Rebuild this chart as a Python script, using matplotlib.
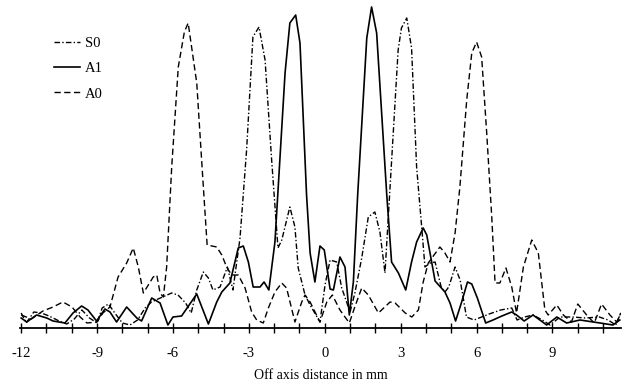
import matplotlib
matplotlib.use("Agg")
import matplotlib.pyplot as plt
from matplotlib.ticker import FixedLocator

plt.rcParams['font.family'] = ['Liberation Serif', 'DejaVu Serif']
plt.rcParams['axes.unicode_minus'] = False

# ---- data (off-axis distance in mm, relative amplitude in arbitrary units) ----
a1_x = [-12.0, -11.78, -11.39, -10.99, -10.74, -10.27, -9.95, -9.61, -9.36, -9.02,
        -8.69, -8.49, -8.23, -7.83, -7.43, -7.24, -6.84, -6.51, -6.20, -6.0,
        -5.66, -5.06, -4.6, -4.27, -4.07, -3.75, -3.42, -3.22, -3.02, -2.83,
        -2.56, -2.4, -2.21, -1.97, -1.57, -1.38, -1.15, -0.98, -0.72, -0.58,
        -0.39, -0.19, -0.02, 0.21, 0.34, 0.6, 0.8, 0.97, 1.13, 1.3,
        1.66, 1.85, 2.05, 2.45, 2.64, 2.91, 3.2, 3.43, 3.63, 3.89,
        4.03, 4.16, 4.36, 4.75, 4.95, 5.17, 5.41, 5.64, 5.81, 6.03,
        6.36, 6.65, 7.0, 7.39, 7.58, 7.88, 8.23, 8.77, 9.17, 9.56,
        10.09, 10.88, 11.39, 11.66]
a1_y = [10, 6, 13, 10, 7, 5, 15, 22, 18, 7,
        19, 16, 6, 21, 10, 7, 30, 25, 3, 11,
        12, 34, 4, 26, 36, 45, 80, 82, 66, 41,
        41, 46, 38, 86, 255, 305, 313, 285, 133, 75,
        46, 82, 78, 39, 38, 71, 61, 13, 46, 133,
        290, 321, 295, 133, 66, 55, 38, 66, 86, 100,
        93, 75, 47, 36, 25, 7, 26, 46, 44, 30,
        5, 8, 12, 16, 13, 7, 13, 3, 11, 5,
        8, 5, 3, 8]

s0_x = [-12.0, -11.8, -11.5, -11.2, -10.9, -10.5, -10.2, -9.9, -9.6, -9.3,
        -9.0, -8.8, -8.55, -8.3, -8.0, -7.7, -7.4, -7.1, -6.85, -6.5,
        -6.05, -5.8, -5.5, -5.28, -5.06, -4.8, -4.6, -4.42, -4.14, -3.85,
        -3.63, -3.35, -3.09, -2.84, -2.6, -2.36, -2.1, -1.85, -1.7, -1.38,
        -1.18, -1.05, -0.78, -0.58, -0.19, 0.01, 0.21, 0.47, 0.67, 1.0,
        1.19, 1.46, 1.72, 1.98, 2.18, 2.38, 2.9, 3.03, 3.24, 3.43,
        3.63, 3.83, 3.96, 4.16, 4.36, 4.6, 4.75, 4.9, 5.15, 5.35,
        5.6, 5.9, 6.5, 6.95, 7.39, 7.6, 7.9, 8.23, 8.6, 8.9,
        9.3, 9.8, 10.3, 10.85, 11.2, 11.5, 11.7]
s0_y = [15, 5, 16, 15, 12, 7, 4, 9, 18, 10,
        5, 20, 24, 15, 5, 3, 8, 20, 26, 30,
        35, 33, 25, 15, 38, 56, 50, 38, 41, 61,
        38, 90, 178, 291, 301, 268, 168, 80, 88, 121,
        101, 60, 33, 23, 6, 43, 68, 66, 40, 16,
        35, 70, 111, 116, 96, 55, 278, 300, 310, 280,
        161, 101, 61, 65, 66, 41, 36, 41, 61, 48,
        11, 8, 14, 18, 20, 8, 11, 13, 8, 3,
        11, 11, 10, 11, 8, 3, 15]

a0_x = [-12.0, -11.6, -11.14, -10.74, -10.35, -9.99, -9.67, -9.4, -9.0, -8.77,
        -8.49, -8.17, -7.83, -7.57, -7.37, -7.17, -6.78, -6.64, -6.51, -6.38,
        -6.25, -6.05, -5.79, -5.55, -5.4, -5.06, -4.85, -4.65, -4.27, -4.07,
        -3.88, -3.68, -3.42, -3.15, -2.89, -2.69, -2.43, -2.23, -1.97, -1.7,
        -1.51, -1.18, -0.91, -0.78, -0.58, -0.19, 0.08, 0.3, 0.6, 0.97,
        1.2, 1.46, 1.72, 2.12, 2.58, 2.78, 3.18, 3.44, 3.7, 3.89,
        4.09, 4.55, 4.75, 4.95, 5.15, 5.34, 5.61, 5.81, 6.0, 6.2,
        6.4, 6.6, 6.73, 6.92, 7.16, 7.39, 7.58, 7.85, 8.18, 8.44,
        8.7, 8.83, 9.17, 9.43, 9.75, 10.0, 10.35, 10.65, 10.94, 11.27,
        11.54, 11.7]
a0_y = [13, 9, 17, 21, 26, 21, 11, 5, 6, 15,
        21, 51, 65, 80, 61, 35, 51, 53, 35, 31,
        61, 161, 261, 296, 305, 245, 161, 83, 81, 73,
        61, 53, 53, 40, 16, 8, 5, 20, 36, 45,
        40, 6, 26, 33, 26, 6, 26, 33, 18, 5,
        22, 40, 33, 15, 26, 25, 15, 11, 18, 46,
        65, 81, 75, 66, 95, 141, 228, 275, 286, 271,
        195, 111, 45, 45, 60, 41, 15, 61, 88, 75,
        18, 13, 23, 13, 6, 24, 13, 5, 24, 13,
        6, 15]

major_ticks = [-12, -9, -6, -3, 0, 3, 6, 9]
minor_ticks = list(range(-12, 12))

# ---- figure ----
fig = plt.figure(figsize=(6.27, 3.87), dpi=100)
ax = fig.add_axes([19.9 / 627, 1 - 328 / 387, (620.8 - 19.9) / 627, 325 / 387])

ax.plot(s0_x, s0_y, color='black', lw=1.0, linestyle=(0, (4, 1.6, 1, 1.6)), label='S0')
ax.plot(a1_x, a1_y, color='black', lw=1.2, linestyle='-', label='A1')
ax.plot(a0_x, a0_y, color='black', lw=1.0, linestyle=(0, (4.5, 2.5)), label='A0')

ax.set_xlim(-12.05, 11.7)
ax.set_ylim(0, 325)

for s in ['top', 'right', 'left']:
    ax.spines[s].set_visible(False)
ax.spines['bottom'].set_linewidth(1.3)
ax.set_yticks([])

ax.xaxis.set_major_locator(FixedLocator(major_ticks))
ax.xaxis.set_minor_locator(FixedLocator(minor_ticks))
ax.set_xticklabels([str(t) for t in major_ticks])
ax.tick_params(axis='x', which='both', direction='inout', length=7, width=1.0,
               labelsize=10.5, pad=10)

ax.set_xlabel('Off axis distance in mm', fontsize=10, labelpad=7)

leg = ax.legend(loc='upper left', bbox_to_anchor=(54 / 627, 1 - 37 / 387),
                bbox_transform=fig.transFigure, frameon=False, fontsize=10.5,
                handlelength=1.75, handletextpad=0.35, labelspacing=0.82,
                borderpad=0, borderaxespad=0)

fig.savefig('out.png', dpi=100)
